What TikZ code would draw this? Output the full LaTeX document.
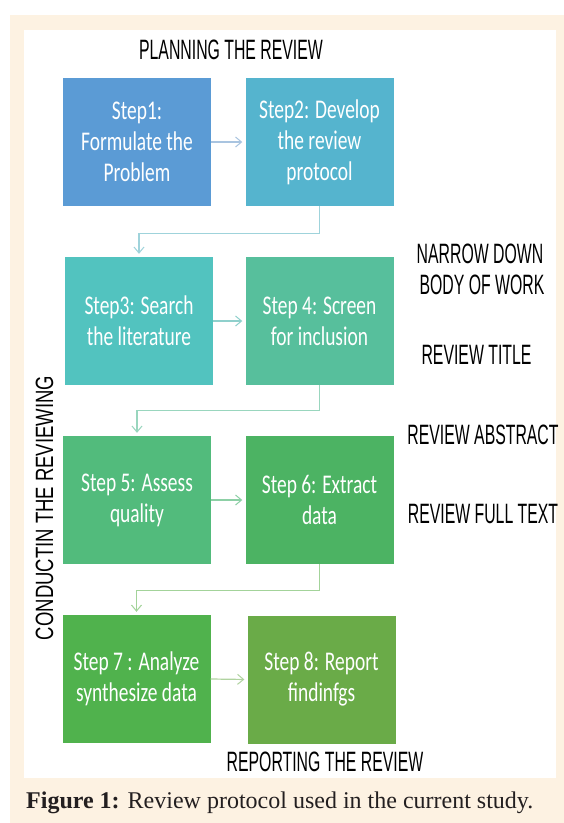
\documentclass[tikz,border=0pt]{standalone}
\usepackage{fontspec}
\usetikzlibrary{arrows.meta}
\setmainfont{Liberation Serif}
\newfontfamily\stepfont[FakeStretch=0.72]{Carlito}
\newfontfamily\labelfont[FakeStretch=0.565]{Liberation Sans}
\newfontfamily\sidefont[FakeStretch=0.74]{Liberation Sans}

\definecolor{panel}{HTML}{FDF2E2}
\definecolor{sOne}{HTML}{5B9BD5}
\definecolor{sTwo}{HTML}{55B4CE}
\definecolor{sThree}{HTML}{52C3BF}
\definecolor{sFour}{HTML}{57BF9C}
\definecolor{sFive}{HTML}{52BB7C}
\definecolor{sSix}{HTML}{4CB363}
\definecolor{sSeven}{HTML}{50B24D}
\definecolor{sEight}{HTML}{6AAB48}
\definecolor{aOne}{HTML}{A9C4E0}
\definecolor{aTwo}{HTML}{9FD3DB}
\definecolor{aThree}{HTML}{8FD0CC}
\definecolor{aFour}{HTML}{99D6BE}
\definecolor{aFive}{HTML}{8DD0A6}
\definecolor{aSix}{HTML}{A3D39A}
\definecolor{aSeven}{HTML}{B0D3A0}
\definecolor{captext}{HTML}{231F20}

\begin{document}
\begin{tikzpicture}[x=1pt,y=-1pt,
  stepbox/.style={minimum width=148pt, minimum height=128pt, inner sep=0pt,
    align=center, text=white, font=\stepfont\fontsize{27}{31}\selectfont},
  lab/.style={inner sep=0pt, text=black, font=\labelfont\fontsize{28}{32}\selectfont},
  conn/.style={line width=1.2pt,
    -{Straight Barb[length=6pt,width=10pt,line width=1pt]}, shorten >=3pt}]

% page, beige panel and white inner field
\useasboundingbox (0,0) rectangle (564,823);
\fill[white] (0,0) rectangle (564,823);
\fill[panel] (10,15) rectangle (564,823);
\fill[white] (24,30) rectangle (556,778);

% step boxes
\node[stepbox, fill=sOne]   (b1) at (137,142)   {Step1:\\Formulate the\\Problem};
\node[stepbox, fill=sTwo]   (b2) at (319.5,142) {Step2: Develop\\the review\\protocol};
\node[stepbox, fill=sThree] (b3) at (139,321)   {Step3: Search\\the literature};
\node[stepbox, fill=sFour]  (b4) at (319.5,321) {Step 4: Screen\\for inclusion};
\node[stepbox, fill=sFive]  (b5) at (137,500)   {Step 5: Assess\\quality};
\node[stepbox, fill=sSix]   (b6) at (319.5,500) {Step 6: Extract\\data};
\node[stepbox, fill=sSeven] (b7) at (136.5,679) {Step 7 : Analyze\\synthesize data};
\node[stepbox, fill=sEight] (b8) at (321.5,679.5) {Step 8: Report\\findinfgs};

% connectors
\draw[conn, aOne]   (b1.east) -- (b2.west);
\draw[conn, aTwo]   (b2.south) -- ++(0,27) -| (b3.north);
\draw[conn, aThree] (b3.east) -- (b4.west);
\draw[conn, aFour]  (b4.south) -- ++(0,25) -| (b5.north);
\draw[conn, aFive]  (b5.east) -- (b6.west);
\draw[conn, aSix]   (b6.south) -- ++(0,26) -| (b7.north);
\draw[conn, aSeven] (b7.east) -- (b8.west);

% phase labels
\node[lab] (plan)   at (231,50)  {PLANNING THE REVIEW};
\node[lab] (report) at (325,762) {REPORTING THE REVIEW};
\node[lab] (narrow) at (480,254) {NARROW DOWN};
\node[lab] (body)   at (482,285) {BODY OF WORK};
\node[lab] (title)  at (476.5,355) {REVIEW TITLE};
\node[lab] (abstr)  at (483,435) {REVIEW ABSTRACT};
\node[lab] (full)   at (483,514) {REVIEW FULL TEXT};
\node[inner sep=0pt, rotate=90, font=\sidefont\fontsize{25}{29}\selectfont] (conduct)
  at (44.5,508) {CONDUCTIN THE REVIEWING};

% caption
\node[anchor=base west, inner sep=0pt, text=captext,
  font=\fontsize{24}{28}\selectfont] (cap) at (26,808)
  {\textbf{Figure 1:} Review protocol used in the current study.};
\end{tikzpicture}
\end{document}
